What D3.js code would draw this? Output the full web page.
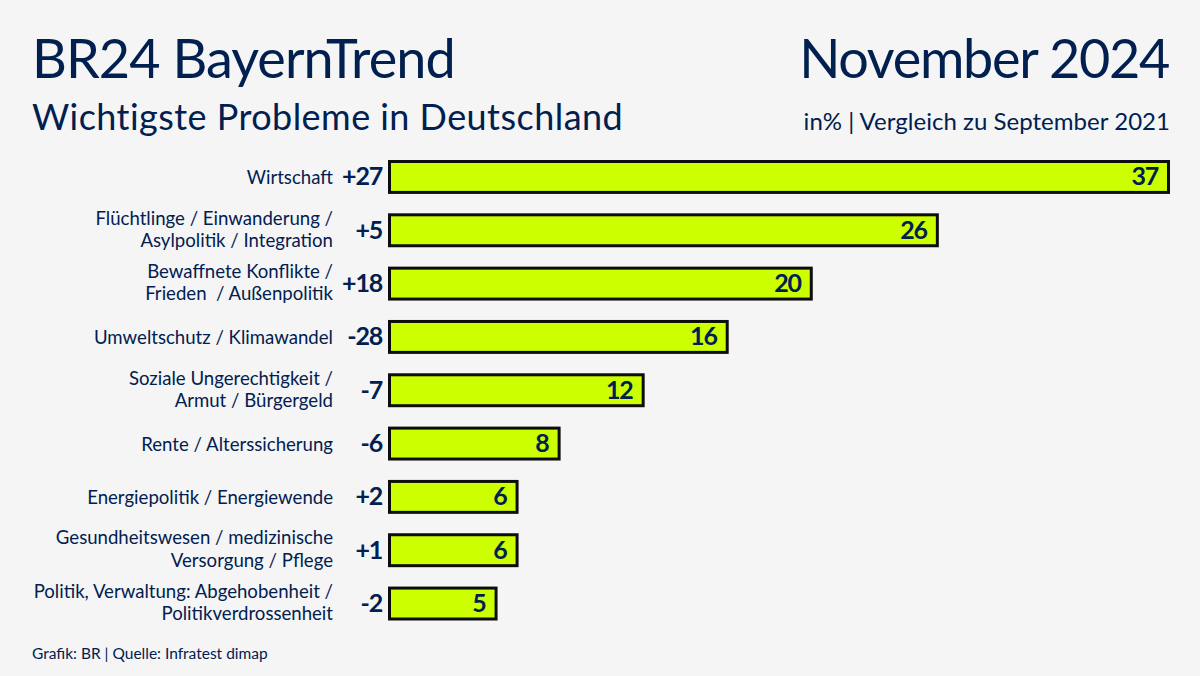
<!DOCTYPE html>
<html>
<head>
<meta charset="utf-8">
<script src="https://cdnjs.cloudflare.com/ajax/libs/d3/7.9.0/d3.min.js"></script>
<style>
  html, body { margin: 0; padding: 0; background: #f5f5f5; }
  svg { display: block; }
  text { font-family: Lato, "Open Sans", sans-serif; fill: #012050; }
  .bar { fill: #ccff00; stroke: #0d0d0d; stroke-width: 3; }
  .num { font-weight: 700; font-size: 25px; letter-spacing: -1.2px; }
</style>
</head>
<body>
<div id="chart"></div>
<script>
// one entry per bar, label lines are split on "|"
var categories = [
    "Wirtschaft",
    "Flüchtlinge / Einwanderung /|Asylpolitik / Integration",
    "Bewaffnete Konflikte /|Frieden  / Außenpolitik",
    "Umweltschutz / Klimawandel",
    "Soziale Ungerechtigkeit /|Armut / Bürgergeld",
    "Rente / Alterssicherung",
    "Energiepolitik / Energiewende",
    "Gesundheitswesen / medizinische|Versorgung / Pflege",
    "Politik, Verwaltung: Abgehobenheit /|Politikverdrossenheit"
];
var values = [37, 26, 20, 16, 12, 8, 6, 6, 5];
var changes = ["+27", "+5", "+18", "-28", "-7", "-6", "+2", "+1", "-2"];

var svg = d3.select("#chart").append("svg")
    .attr("width", 1200)
    .attr("height", 676);

var x = d3.scaleLinear().domain([0, 37]).range([391, 1168.5]);
var y = d3.scaleBand()
    .domain(categories)
    .range([161.5, 619])
    .paddingInner(0.42);

function headline(str, xPos, yPos, size, anchor, spacing) {
    return svg.append("text")
        .attr("x", xPos)
        .attr("y", yPos)
        .attr("font-size", size)
        .attr("text-anchor", anchor)
        .attr("letter-spacing", spacing)
        .text(str);
}

headline("BR24 BayernTrend", 32, 78, 54, "start", -0.95);
headline("November 2024", 1169, 78, 54, "end", -1.3);
headline("Wichtigste Probleme in Deutschland", 32, 130, 36, "start", 0.45);
headline("in% | Vergleich zu September 2021", 1170, 130, 24, "end", 0.03);
headline("Grafik: BR | Quelle: Infratest dimap", 32, 659, 15.5, "start", 0);

var rows = svg.selectAll(".row").data(categories).enter().append("g")
    .attr("class", "row")
    .attr("transform", function(d) { return "translate(0," + y(d) + ")"; });

rows.append("rect")
    .attr("class", "bar")
    .attr("x", x(0) - 1.5)
    .attr("y", 0)
    .attr("width", function(d, i) { return x(values[i]) - x(0) + 1.5; })
    .attr("height", y.bandwidth());

// value inside the bar end
rows.append("text")
    .attr("class", "num")
    .attr("x", function(d, i) { return x(values[i]) - 10.5; })
    .attr("y", y.bandwidth() / 2 + 8.5)
    .attr("text-anchor", "end")
    .text(function(d, i) { return values[i]; });

// change against 2021
rows.append("text")
    .attr("class", "num")
    .attr("x", 382)
    .attr("y", y.bandwidth() / 2 + 8.5)
    .attr("text-anchor", "end")
    .text(function(d, i) { return changes[i]; });

rows.each(function(d) {
    var lines = d.split("|");
    var label = d3.select(this).append("text")
        .attr("text-anchor", "end")
        .attr("font-size", 18.6)
        .style("white-space", "pre");
    lines.forEach(function(line, i) {
        var offset = lines.length > 1 ? 5.5 : 7;
        label.append("tspan")
            .attr("x", 333)
            .attr("y", y.bandwidth() / 2 + offset + (i - (lines.length - 1) / 2) * 22.5)
            .text(line);
    });
});
</script>
</body>
</html>
